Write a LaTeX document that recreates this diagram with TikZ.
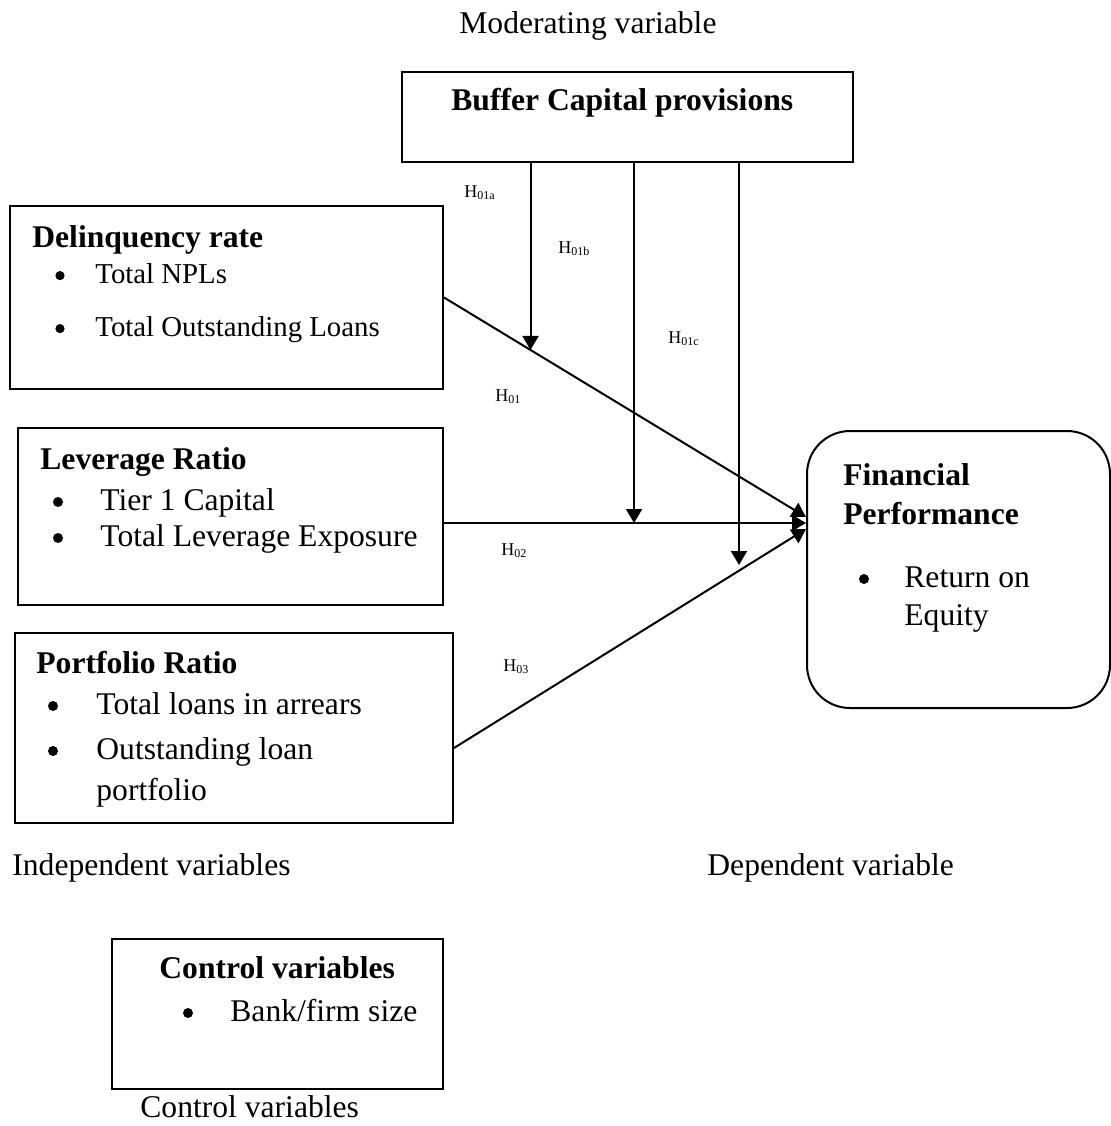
\documentclass[tikz,border=0pt]{standalone}
\usepackage{fontspec}
\setmainfont{Liberation Serif}
\usetikzlibrary{arrows.meta,fit,calc}
\begin{document}
\begin{tikzpicture}[x=0.5pt,y=-0.5pt,
  box/.style={draw, line width=1pt, inner sep=0pt},
  lbl/.style={anchor=base west, inner sep=0pt, font=\fontsize{15.8}{19}\selectfont},
  ttl/.style={anchor=base west, inner sep=0pt, font=\fontsize{15.8}{19}\selectfont\bfseries},
  sml/.style={anchor=base west, inner sep=0pt, font=\fontsize{14.4}{17}\selectfont},
  hyp/.style={anchor=base west, inner sep=0pt, font=\fontsize{9}{10}\selectfont},
  bul/.style={circle, fill, inner sep=0pt, minimum size=5pt, yshift=4pt},
  sbul/.style={circle, fill, inner sep=0pt, minimum size=4.6pt, yshift=3.7pt},
  arr/.style={line width=1pt, -{Triangle[width=8pt,length=7pt]}}
]
\useasboundingbox (0,0) rectangle (1111,1126);

% boxes
\node[box, fit={(402,72) (853,162)}] (buf) {};
\node[box, fit={(10,206) (443,389)}] (del) {};
\node[box, fit={(18,428) (443,605)}] (lev) {};
\node[box, fit={(15,633) (453,823)}] (por) {};
\node[box, rounded corners=21.5pt, fit={(807,431) (1110,708)}] (fin) {};
\node[box, fit={(112,939) (443,1089)}] (ctl) {};

% outside labels
\node[lbl] (tmod) at (459,33) {Moderating variable};
\node[lbl] (tind) at (12,875) {Independent variables};
\node[lbl] (tdep) at (707,875) {Dependent variable};
\node[lbl] (tctl) at (140,1117) {Control variables};

% buffer
\node[ttl] (bufT) at (451,110) {Buffer Capital provisions};

% delinquency
\node[ttl] (delT) at (32,247) {Delinquency rate};
\node[sbul] (delB1) at (60,283) {};
\node[sml] (delI1) at (95,283) {Total NPLs};
\node[sbul] (delB2) at (60,336) {};
\node[sml] (delI2) at (95,336) {Total Outstanding Loans};

% leverage
\node[ttl] (levT) at (40,469) {Leverage Ratio};
\node[bul] (levB1) at (58,510) {};
\node[lbl] (levI1) at (100,510) {Tier 1 Capital};
\node[bul] (levB2) at (58,546) {};
\node[lbl] (levI2) at (100,546) {Total Leverage Exposure};

% portfolio
\node[ttl] (porT) at (36,673) {Portfolio Ratio};
\node[bul] (porB1) at (53,714) {};
\node[lbl] (porI1) at (96,714) {Total loans in arrears};
\node[bul] (porB2) at (53,759) {};
\node[lbl] (porI2) at (96,759) {Outstanding loan};
\node[lbl] (porI3) at (96,800) {portfolio};

% financial
\node[ttl] (finT1) at (843,485) {Financial};
\node[ttl] (finT2) at (843,524) {Performance};
\node[bul] (finB1) at (864,587) {};
\node[lbl] (finI1) at (904,587) {Return on};
\node[lbl] (finI2) at (904,625) {Equity};

% control
\node[ttl] (ctlT) at (159,978) {Control variables};
\node[bul] (ctlB1) at (188,1021) {};
\node[lbl] (ctlI1) at (230,1021) {Bank/firm size};

% hypothesis labels
\node[hyp] (h01a) at (464,197) {H\textsubscript{01a}};
\node[hyp] (h01b) at (558,253) {H\textsubscript{01b}};
\node[hyp] (h01c) at (668,343) {H\textsubscript{01c}};
\node[hyp] (h01) at (495,401) {H\textsubscript{01}};
\node[hyp] (h02) at (501,555) {H\textsubscript{02}};
\node[hyp] (h03) at (503,671) {H\textsubscript{03}};

% main connectors
\coordinate (fD) at ([yshift=26.25pt]fin.west);
\coordinate (fL) at ([yshift=23.25pt]fin.west);
\coordinate (fP) at ([yshift=20.25pt]fin.west);
\coordinate (sP) at ([yshift=-10pt]por.east);
\draw[arr] (del.east) -- (fD);
\draw[arr] (lev.east |- fL) -- (fL);
\draw[arr] (sP) -- (fP);

% moderating connectors
\coordinate (m1) at ($(del.east)!0.239!(fD)$);
\coordinate (m2) at ($(lev.east |- fL)!0.525!(fL)$);
\coordinate (m3) at (739,565);
\draw[arr] (buf.south -| m1) -- (m1);
\draw[arr] (buf.south -| m2) -- (m2);
\draw[arr] (buf.south -| m3) -- (m3);
\end{tikzpicture}
\end{document}
